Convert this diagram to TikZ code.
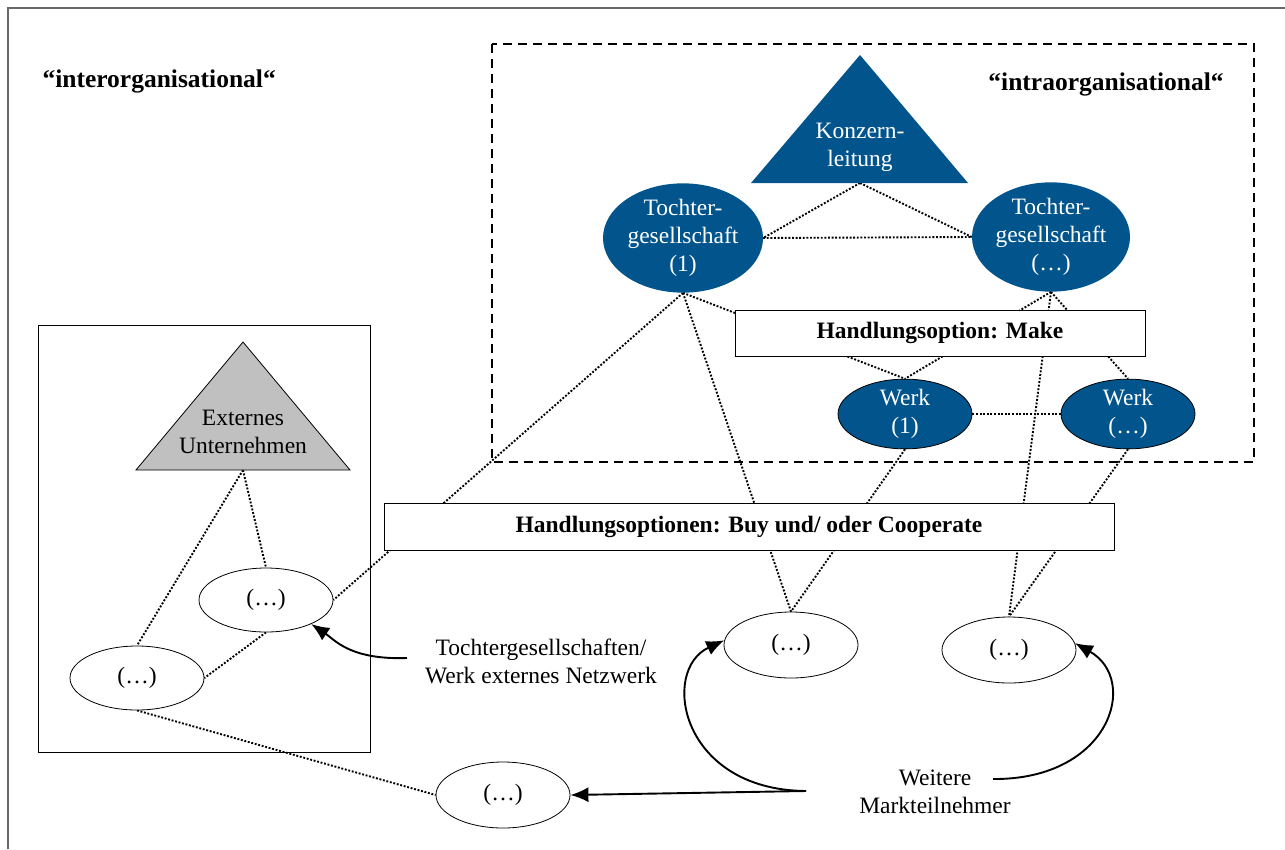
\documentclass[tikz,border=0pt]{standalone}
\usepackage{fontspec}
\setmainfont{Liberation Serif}
\usetikzlibrary{shapes.geometric,arrows.meta}
\definecolor{kblue}{RGB}{1,84,140}
\definecolor{tgray}{RGB}{192,192,192}
\definecolor{framegray}{RGB}{105,105,105}
\pgfdeclarelayer{bg}
\pgfsetlayers{bg,main}
\begin{document}
\begin{tikzpicture}[x=1pt,y=-1pt,
  every node/.style={font=\fontsize{23.5}{28}\selectfont, align=center},
  blueell/.style={ellipse, fill=kblue, text=white, inner sep=0},
  werkell/.style={ellipse, draw=black, line width=0.8pt, fill=kblue, text=white, inner sep=0, minimum width=134, minimum height=64},
  whiteell/.style={ellipse, draw=black, fill=white, inner sep=0, minimum width=134, minimum height=66, line width=0.8pt},
  optbox/.style={draw=black, fill=white, inner sep=0, font=\fontsize{23.5}{28}\selectfont\bfseries, line width=0.8pt},
  dots/.style={line width=1.9pt, dash pattern=on 1.9pt off 1.7pt},
  arr/.style={line width=1.9pt, -{Latex[length=18pt,width=15pt]}},
  title/.style={font=\fontsize{25.5}{28}\selectfont\bfseries},
]
\useasboundingbox (0,0) rectangle (1285,849);

% outer frame (only top and left edges visible)
\draw[framegray, line width=2pt] (8,849) -- (8,8) -- (1285,8);

% dashed intraorganisational box
\draw[line width=1.8pt, dash pattern=on 9pt off 6pt] (492,44) rectangle (1254,462);

% left box
\draw[line width=0.8pt] (38,325) rectangle (370,752);

% titles
\node[title, anchor=west] (inter) at (39,81) {“interorganisational“};
\node[title] (intra) at (1106,84) {“intraorganisational“};

% Konzernleitung triangle
\fill[kblue] (751,183) -- (860,55) -- (968,183) -- cycle;
\node[text=white] (konz) at (860,147) {Konzern-\\leitung};
\coordinate (kb) at (860,183);

% Externes Unternehmen triangle
\draw[fill=tgray, line width=0.8pt] (136,470) -- (243,342) -- (350,470) -- cycle;
\node (ext) at (243,432) {Externes\\Unternehmen};
\coordinate (xb) at (243,470);

% Tochtergesellschaften
\node[blueell, minimum width=160, minimum height=106] (t1) at (683,238) {Tochter-\\gesellschaft\\(1)};
\node[blueell, minimum width=158, minimum height=104] (t2) at (1051,237) {Tochter-\\gesellschaft\\(…)};

% option boxes
\node[optbox, minimum width=410, minimum height=46] (make) at (940,333) {Handlungsoption: Make};
\node[optbox, minimum width=730, minimum height=47] (buy) at (749,526.5) {Handlungsoptionen: Buy und/ oder Cooperate};

% Werke
\node[werkell] (w1) at (905,414) {Werk\\(1)};
\node[werkell] (w2) at (1128,414) {Werk\\(…)};

% white ellipses
\node[whiteell] (e1) at (791,645) {(…)};
\node[whiteell] (e2) at (1009,650) {(…)};
\node[whiteell] (b) at (503,795) {(…)};
\node[whiteell, minimum height=64] (l1) at (266,600) {(…)};
\node[whiteell, minimum height=64] (l2) at (137,678) {(…)};

% labels
\node (netz) at (541,661) {Tochtergesellschaften/\\Werk externes Netzwerk};
\node (weit) at (935,792) {Weitere\\Markteilnehmer};
\coordinate (ws) at (806,791);
\coordinate (wr) at (993,779);
\coordinate (ns) at (407,658);

% dotted connectors (behind)
\begin{pgfonlayer}{bg}
\draw[dots] (kb) -- (t1.east);
\draw[dots] (kb) -- (t2.west);
\draw[dots] (t1.east) -- (t2.west);
\draw[dots] (t1.south) -- (w1.north);
\draw[dots] (t1.south) -- (e1.north);
\draw[dots] (t1.south) -- (l1.east);
\draw[dots] (t2.south) -- (w1.north);
\draw[dots] (t2.south) -- (w2.north);
\draw[dots] (t2.south) -- (e2.north);
\draw[dots] (w1.east) -- (w2.west);
\draw[dots] (w1.south) -- (e1.north);
\draw[dots] (w2.south) -- (e2.north);
\draw[dots] (xb) -- (l1.north);
\draw[dots] (xb) -- (l2.north);
\draw[dots] (l1.south) -- (l2.east);
\draw[dots] (l2.south) -- (b.west);
\end{pgfonlayer}

% arrows
\draw[arr] (ns) .. controls (350,660) and (335,640) .. (l1.-28);
\draw[arr] (ws) .. controls (680,790) and (660,670) .. (e1.176);
\draw[arr] (wr) .. controls (1110,780) and (1140,680) .. (e2.6);
\draw[arr] (ws) -- (b.east);
\end{tikzpicture}
\end{document}
